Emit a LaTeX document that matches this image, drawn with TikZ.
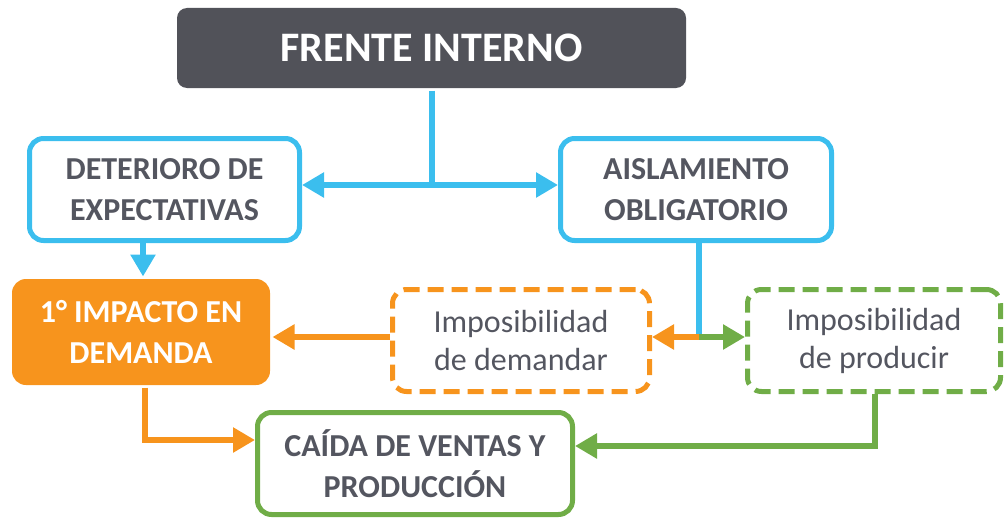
\documentclass[tikz,border=0pt]{standalone}
\usepackage{fontspec}
\setmainfont{Carlito}
\usetikzlibrary{arrows.meta}
\definecolor{frgray}{HTML}{515259}
\definecolor{txgray}{HTML}{545660}
\definecolor{frblue}{HTML}{3BBEEE}
\definecolor{frorange}{HTML}{F7941D}
\definecolor{frgreen}{HTML}{70AD47}
\begin{document}
\begin{tikzpicture}[x=1pt,y=-1pt,
  box/.style={rounded corners=14pt,line width=5pt,inner sep=0pt,align=center,
    minimum height=102pt,font=\fontsize{32}{41}\selectfont\bfseries,text=txgray},
  dbox/.style={box,dashed,dash pattern=on 16pt off 8pt,font=\fontsize{32}{38}\selectfont,text=txgray},
  conn/.style={line width=6pt,-{Triangle[length=22pt,width=24pt]}}]
  \useasboundingbox (0,0) rectangle (1006,519);
  \node[box,fill=frgray,draw=none,minimum width=509pt,minimum height=80pt,rounded corners=10pt,
    text=white,font=\fontsize{42}{48}\selectfont\bfseries] (frente) at (431.5,48) {FRENTE INTERNO};
  \node[box,draw=frblue,minimum width=270pt] (deter) at (164.5,189.5) {DETERIORO DE\\EXPECTATIVAS};
  \node[box,draw=frblue,minimum width=271pt] (aisla) at (696,189.5) {AISLAMIENTO\\OBLIGATORIO};
  \node[box,fill=frorange,draw=none,minimum width=258pt,minimum height=106pt,text=white] (impacto) at (141,332) {1° IMPACTO EN\\DEMANDA};
  \node[dbox,draw=frorange,minimum width=257pt] (demandar) at (521,340.5) {Imposibilidad\\de demandar};
  \node[dbox,draw=frgreen,minimum width=253pt] (producir) at (874,340.5) {Imposibilidad\\de producir};
  \node[box,draw=frgreen,minimum width=315pt] (caida) at (415,463.5) {CAÍDA DE VENTAS Y\\PRODUCCIÓN};
  % blue connectors
  \coordinate (jtop) at (432,185);
  \draw[frblue,line width=6pt] (frente.south -| jtop) -- (jtop);
  \draw[conn,frblue] (jtop) -- (jtop -| deter.east);
  \draw[conn,frblue] (jtop) -- (jtop -| aisla.west);
  \draw[conn,frblue] (143,0 |- deter.south) -- (143,0 |- impacto.north);
  \coordinate (jmid) at (699,337);
  \draw[frblue,line width=6pt] (aisla.south -| jmid) -- ([yshift=3pt]jmid);
  \draw[conn,frorange] (jmid) -- (jmid -| demandar.east);
  \draw[conn,frgreen] (jmid) -- (jmid -| producir.west);
  % orange and green connectors
  \draw[conn,frorange] (demandar.west |- 0,337) -- (impacto.east |- 0,337);
  \coordinate (jleft) at (145,440);
  \draw[conn,frorange] (impacto.south -| jleft) -- (jleft) -- (jleft -| caida.west);
  \coordinate (jright) at (875,446);
  \draw[conn,frgreen] (producir.south -| jright) -- (jright) -- (jright -| caida.east);
\end{tikzpicture}
\end{document}
